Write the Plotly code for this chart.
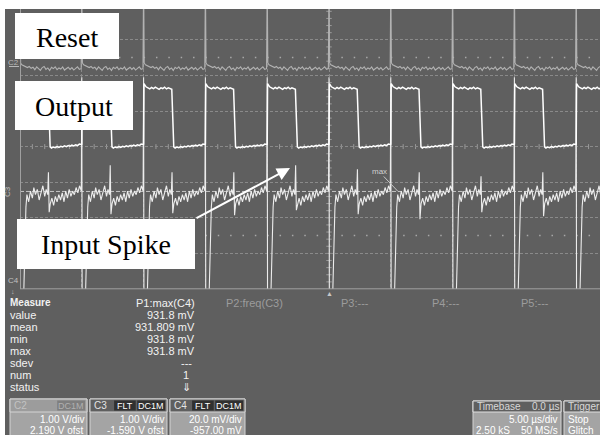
import plotly.graph_objects as go

# ---------------- data ----------------
reset_times_us = [-25, -20, -15, -10, -5, 0, 5, 10, 15, 20]

timebase_us_per_div = 5.00
c2_volts_per_div, c2_offset_v = 1.00, 2.190
c3_volts_per_div, c3_offset_v = 1.00, -1.590
c4_mv_per_div, c4_offset_mv = 20.0, -957.00

# C2 "Reset": one period after each reset edge (time offset in us, volts)
reset_dt_us = [0.00, 0.05, 0.15, 0.30, 0.45, 0.60, 0.75, 0.90, 1.05, 1.20, 1.35, 1.50,
               1.65, 1.80, 1.95, 2.10, 2.25, 2.40, 2.55, 2.70, 2.85, 3.00, 3.15, 3.30,
               3.45, 3.60, 3.75, 3.90, 4.05, 4.20, 4.35, 4.50, 4.65, 4.80, 4.95]
reset_v = [2.50, 0.16, 0.11, 0.08, 0.05, 0.03, 0.06, 0.01, 0.04, -0.03, 0.05, 0.00,
           -0.05, 0.03, 0.06, -0.02, 0.02, -0.05, 0.04, 0.00, 0.05, -0.03, 0.02, -0.01,
           0.05, -0.04, 0.01, 0.04, -0.02, 0.03, -0.04, 0.02, 0.05, -0.02, 0.00]

# C3 "Output"
output_dt_us = [0.00, 0.03, 0.10, 0.20, 0.35, 0.50, 0.65, 0.80, 0.95, 1.10, 1.25, 1.40,
                1.55, 1.70, 1.85, 2.00, 2.15, 2.28, 2.36, 2.44, 2.55, 2.70, 2.85, 3.00,
                3.15, 3.30, 3.45, 3.60, 3.75, 3.90, 4.05, 4.20, 4.35, 4.50, 4.65, 4.80, 4.97]
output_v = [1.66, 3.36, 3.31, 3.27, 3.24, 3.21, 3.25, 3.22, 3.26, 3.23, 3.20, 3.24,
            3.22, 3.26, 3.21, 3.24, 3.22, 3.20, 2.40, 1.58, 1.55, 1.58, 1.56, 1.59,
            1.57, 1.60, 1.58, 1.61, 1.59, 1.62, 1.60, 1.63, 1.61, 1.64, 1.62, 1.66, 1.65]

# C4 "Input" (mV)
input_pre_dt_us = [0.00, 0.03, 0.25, 0.32, 0.40, 0.48, 0.56, 0.70, 0.85, 1.00, 1.12, 1.25,
                   1.40, 1.55, 1.70, 1.85, 2.00, 2.12, 2.24]
input_pre_mv = [996, 860, 860, 878, 905, 923, 930, 926, 932, 928, 934, 930,
                933, 927, 931, 935, 929, 933, 930]
input_spike_dt_us = [2.30, 2.36]
spike_top_mv = [942.6, 946.5, 942.6, 942.6, 946.5, 944.3, 942.6, 940.4, 942.6, 943.0]
spike_dip_mv = [920.1, 919.0, 919.6, 918.5, 921.3, 919.0, 916.2, 920.1, 917.9, 919.0]
input_post_dt_us = [2.45, 2.58, 2.72, 2.86, 3.00, 3.14, 3.28, 3.42, 3.56, 3.70, 3.84, 3.98,
                    4.12, 4.26, 4.40, 4.54, 4.68, 4.82, 4.96]
input_post_mv = [925, 928, 924, 929, 926, 930, 927, 931, 926, 932, 928, 933,
                 929, 932, 930, 934, 931, 935, 932]

# measurement panel
measure_labels = ["value", "mean", "min", "max", "sdev", "num", "status"]
measure_values = ["931.8 mV", "931.809 mV", "931.8 mV", "931.8 mV", "---", "1", "\u21d3"]
p1_max_mv = 931.8
param_headers = ["P2:freq(C3)", "P3:---", "P4:---", "P5:---"]

# ---------------- build traces ----------------
def tile(dts, vals):
    xs, ys = [], []
    for t0 in reset_times_us:
        for dt, v in zip(dts, vals):
            xs.append(t0 + dt)
            ys.append(v)
    return xs, ys

rx, rv = tile(reset_dt_us, reset_v)
ox, ov = tile(output_dt_us, output_v)
ix, iv = [], []
for k, t0 in enumerate(reset_times_us):
    for dt, v in zip(input_pre_dt_us, input_pre_mv):
        ix.append(t0 + dt); iv.append(v)
    ix += [t0 + input_spike_dt_us[0], t0 + input_spike_dt_us[1]]
    iv += [spike_top_mv[k], spike_dip_mv[k]]
    for dt, v in zip(input_post_dt_us, input_post_mv):
        ix.append(t0 + dt); iv.append(v)

c2_div = [(v + c2_offset_v) / c2_volts_per_div for v in rv]
c3_div = [(v + c3_offset_v) / c3_volts_per_div for v in ov]
c4_div = [(v + c4_offset_mv) / c4_mv_per_div for v in iv]
max_level_div = (p1_max_mv + c4_offset_mv) / c4_mv_per_div

BG = '#5f5f5f'
SANS = 'Liberation Sans, Arial, sans-serif'
SERIF = 'Liberation Serif, Times New Roman, serif'

fig = go.Figure()
fig.add_trace(go.Scatter(x=rx, y=c2_div, mode='lines', line=dict(color='#b2b2b2', width=1.1), hoverinfo='skip'))
fig.add_trace(go.Scatter(x=ix, y=c4_div, mode='lines', line=dict(color='#ececec', width=1.1), hoverinfo='skip'))
fig.add_trace(go.Scatter(x=ox, y=c3_div, mode='lines', line=dict(color='#ffffff', width=1.5), hoverinfo='skip'))

# ---------------- layout helpers (pixel -> paper) ----------------
L, R, T, B = 20, 600, 9, 289
def xp(px): return (px - L) / (R - L)
def yp(py): return (B - py) / (B - T)

def rect(x0, y0, x1, y1, fill, line=None, layer='above'):
    fig.add_shape(type='rect', xref='paper', yref='paper', x0=xp(x0), x1=xp(x1),
                  y0=yp(y1), y1=yp(y0), fillcolor=fill, layer=layer,
                  line=dict(color=line if line else fill, width=1 if line else 0))

def text(t, px, py, size=11, color='#f2f2f2', anchor='left', family=SANS, angle=0):
    fig.add_annotation(text=t, x=xp(px), y=yp(py), xref='paper', yref='paper',
                       xanchor=anchor, yanchor='middle', showarrow=False, textangle=angle,
                       font=dict(size=size, color=color, family=family), borderpad=0)

x_lo = reset_times_us[0]
x_hi = x_lo + (R - L) / 61.8 * timebase_us_per_div
y_lo = -4.0
y_hi = y_lo + (B - T) / 35.6

# center-line tick marks and decorations (grid decoration)
for i in range(int(x_lo), int(x_hi) + 1):
    fig.add_shape(type='line', xref='x', yref='y', x0=i, x1=i, y0=-0.07, y1=0.07,
                  line=dict(color='#9a9a9a', width=1), layer='below')
for j in range(-19, 20):
    fig.add_shape(type='line', xref='x', yref='y', x0=-0.22, x1=0.22, y0=j * 0.2, y1=j * 0.2,
                  line=dict(color='#9a9a9a', width=1), layer='below')
for yy in (2.5, -2.5):
    fig.add_shape(type='line', xref='x', yref='y', x0=x_lo, x1=x_hi, y0=yy, y1=yy,
                  line=dict(color='#a8a8a8', width=1.5, dash='1.5px,10.86px'), layer='below')
fig.add_shape(type='line', xref='x', yref='y', x0=x_lo, x1=x_hi, y0=max_level_div, y1=max_level_div,
              line=dict(color='#c4c4c4', width=1, dash='4px,2px'), layer='below')
# borders
fig.add_shape(type='line', xref='paper', yref='paper', x0=xp(20.5), x1=xp(20.5), y0=0, y1=1,
              line=dict(color='#a0a0a0', width=1))
fig.add_shape(type='line', xref='paper', yref='paper', x0=0, x1=1, y0=yp(288.8), y1=yp(288.8),
              line=dict(color='#a0a0a0', width=1))

# white page margins (screenshot crop)
rect(-5, -5, 605, 9, '#ffffff')
rect(-5, -5, 5, 440, '#ffffff')

# "max" marker
fig.add_annotation(x=(398 - 329) / 61.8 * timebase_us_per_div, y=max_level_div, xref='x', yref='y',
                   text='max', showarrow=True, arrowhead=0, arrowwidth=1, arrowcolor='#c8c8c8',
                   ax=-19, ay=-20, font=dict(size=8, color='#d0d0d0', family=SANS), borderpad=0)

# white callout boxes
rect(15, 13, 119, 59, '#ffffff')
rect(15, 81, 133, 130, '#ffffff')
rect(17, 219, 195, 269, '#ffffff')
text('Reset', 67, 38, size=28, color='#000000', anchor='center', family=SERIF)
text('Output', 74, 106, size=28, color='#000000', anchor='center', family=SERIF)
text('Input Spike', 106, 244, size=28, color='#000000', anchor='center', family=SERIF)
fig.add_annotation(x=xp(290), y=yp(168), xref='paper', yref='paper', text='', showarrow=True,
                   ax=-95, ay=51, arrowhead=2, arrowsize=1.3, arrowwidth=2, arrowcolor='#ffffff',
                   standoff=0, startstandoff=0)

# channel labels at the left edge
text('C2', 13, 62, size=8, color='#b8b8b8', anchor='center')
fig.add_shape(type='line', xref='paper', yref='paper', x0=xp(9), x1=xp(19), y0=yp(66.5), y1=yp(66.5),
              line=dict(color='#b8b8b8', width=1))
text('C3', 7, 192, size=8, color='#c0c0c0', anchor='center', angle=-90)
text('C4', 13, 280, size=8, color='#c0c0c0', anchor='center')
text('\u2193', 13, 291.5, size=7, color='#c0c0c0', anchor='center')
text('\u25b2', 329, 293, size=7, color='#c8c8c8', anchor='center')

# measurement panel
text('<b>Measure</b>', 9, 302.5, size=10)
text('P1:max(C4)', 196, 302.5, size=11, anchor='right')
for h, px in zip(param_headers, [225, 340, 431, 520]):
    text(h, px, 302.5, size=11, color='#9c9c9c')
for i, (lab, val) in enumerate(zip(measure_labels, measure_values)):
    py = 314.8 + 12.1 * i
    text(lab, 9, py, size=11)
    if i < 4:
        text(val, 196, py, size=11, anchor='right')
    else:
        text(val, 186, py, size=11, anchor='center')

# channel descriptor boxes
BODY = '#a4a4a4'
def chan_box(x0, x1, name, badges, l1, l2, dim=False):
    rect(x0, 399, x1, 440, BODY, line='#d4d4d4')
    rect(x0, 399, x1, 412, '#9c9c9c' if dim else '#5f5f5f', line='#d4d4d4')
    text(name, x0 + 3, 405.5, size=10, color='#c2c2c2' if dim else '#e4e4e4')
    bx = x1 - 2
    for b in reversed(badges):
        w = 6.2 * len(b) + 3
        rect(bx - w, 400.5, bx, 410.5, '#7e7e7e' if dim else '#303030')
        text(b, bx - w / 2, 405.5, size=9, color='#b0b0b0' if dim else '#ffffff', anchor='center')
        bx -= w + 1.5
    text(l1, x1 - 2, 419.5, size=10, color='#ffffff', anchor='right')
    text(l2, x1 - 2, 430.5, size=10, color='#ffffff', anchor='right')

chan_box(10, 87, 'C2', ['DC1M'], f'{c2_volts_per_div:.2f} V/div', f'{c2_offset_v:.3f} V ofst', dim=True)
chan_box(90, 167, 'C3', ['FLT', 'DC1M'], f'{c3_volts_per_div:.2f} V/div', f'{c3_offset_v:.3f} V ofst')
chan_box(170, 245, 'C4', ['FLT', 'DC1M'], f'{c4_mv_per_div:.1f} mV/div', f'{c4_offset_mv:.2f} mV')

# timebase / trigger boxes
rect(473, 401, 561, 440, BODY, line='#d4d4d4')
rect(473, 401, 561, 412, '#5f5f5f', line='#e0e0e0')
text('Timebase', 476, 406.5, size=10, color='#d8d8d8')
text('0.0 \u00b5s', 560, 406.5, size=10, color='#d8d8d8', anchor='right')
text(f'{timebase_us_per_div:.2f} \u00b5s/div', 559, 419.5, size=10, anchor='right', color='#ffffff')
text('2.50 kS', 475, 430.5, size=10, color='#ffffff')
text('50 MS/s', 559, 430.5, size=10, anchor='right', color='#ffffff')
rect(564, 401, 612, 440, BODY, line='#d4d4d4')
rect(564, 401, 612, 412, '#5f5f5f', line='#e0e0e0')
text('Trigger', 567, 406.5, size=10, color='#d8d8d8')
text('Stop', 567, 419.5, size=10, color='#ffffff')
text('Glitch', 567, 430.5, size=10, color='#ffffff')

fig.update_layout(width=600, height=435, autosize=False,
                  margin=dict(l=L, r=600 - R, t=T, b=435 - B, pad=0),
                  paper_bgcolor=BG, plot_bgcolor=BG, showlegend=False)
fig.update_xaxes(range=[x_lo, x_hi], dtick=timebase_us_per_div, tick0=0, showgrid=True,
                 gridcolor='#8a8a8a', griddash='3px,2px', gridwidth=1, zeroline=False,
                 showticklabels=False, ticks='', showline=False, fixedrange=True)
fig.update_yaxes(range=[y_lo, y_hi], dtick=1, tick0=0, showgrid=True,
                 gridcolor='#8a8a8a', griddash='3px,2px', gridwidth=1, zeroline=False,
                 showticklabels=False, ticks='', showline=False, fixedrange=True)

fig.write_html("out.html", config={'displayModeBar': False},
               post_script="document.body.style.margin='0px';")
